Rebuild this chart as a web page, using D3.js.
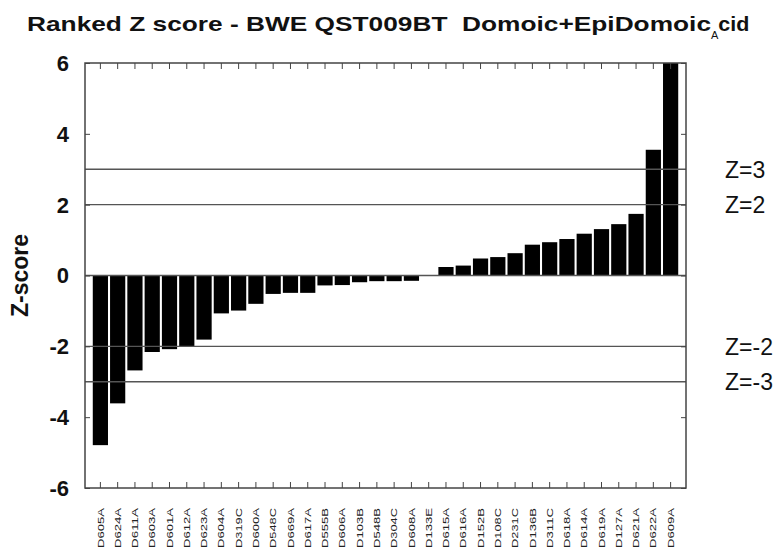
<!DOCTYPE html>
<html>
<head>
<meta charset="utf-8">
<script src="https://cdn.jsdelivr.net/npm/d3@7"></script>
<style>
  body { margin: 0; background: #fff; }
  svg { display: block; }
</style>
</head>
<body>
<svg></svg>
<script>
var labels = ["D605A","D624A","D611A","D603A","D601A","D612A","D623A","D604A","D319C","D600A",
  "D548C","D669A","D617A","D555B","D606A","D103B","D548B","D304C","D608A","D133E",
  "D615A","D616A","D152B","D108C","D231C","D136B","D311C","D618A","D614A","D619A",
  "D127A","D621A","D622A","D609A"];
var zscores = [-4.79,-3.61,-2.68,-2.16,-2.08,-2.01,-1.81,-1.07,-0.99,-0.80,
  -0.52,-0.49,-0.49,-0.28,-0.27,-0.19,-0.16,-0.16,-0.15,0,
  0.24,0.28,0.48,0.52,0.63,0.87,0.94,1.03,1.18,1.31,
  1.45,1.74,3.55,6];
var yTicks = [-6,-4,-2,0,2,4,6];
var zLines = [3,2,-2,-3];
var zLineLabels = ["Z=3","Z=2","Z=-2","Z=-3"];

var margin = {top: 63, right: 97, bottom: 72, left: 85},
    width = 783 - margin.left - margin.right,
    height = 560 - margin.top - margin.bottom;

var x = d3.scaleBand()
  .domain(labels)
  .range([0, width])
  .paddingInner(0.12)
  .paddingOuter(0.45);

var y = d3.scaleLinear()
  .domain([-6, 6])
  .range([height, 0]);

var svg = d3.select("svg")
  .attr("width", 783)
  .attr("height", 560);

// title with subscript A
var title = svg.append("text")
  .attr("x", 27)
  .attr("y", 31)
  .attr("font-family", "Liberation Sans, Arial, sans-serif")
  .attr("font-weight", "bold")
  .attr("font-size", "21px")
  .attr("fill", "#111");
title.append("tspan").text("Ranked Z score - BWE QST009BT\u00a0\u00a0Domoic+EpiDomoic")
  .attr("textLength", 684).attr("lengthAdjust", "spacingAndGlyphs");
title.append("tspan").text("A").attr("font-size", "11px").attr("font-weight", "normal").attr("dy", 8);
title.append("tspan").text("cid").attr("dy", -8)
  .attr("textLength", 31).attr("lengthAdjust", "spacingAndGlyphs");

var g = svg.append("g")
  .attr("transform", "translate(" + margin.left + "," + margin.top + ")");

g.selectAll(".bar")
  .data(zscores)
  .enter().append("rect")
  .attr("class", "bar")
  .attr("x", function(d, i) { return x(labels[i]); })
  .attr("y", function(d) { return y(Math.max(0, d)); })
  .attr("width", x.bandwidth())
  .attr("height", function(d) { return Math.abs(y(d) - y(0)); })
  .attr("fill", "#000");

// reference lines, drawn over bars
g.selectAll(".zline")
  .data(zLines.concat([0]))
  .enter().append("line")
  .attr("x1", 0).attr("x2", width)
  .attr("y1", function(d) { return y(d); })
  .attr("y2", function(d) { return y(d); })
  .attr("stroke", "#555")
  .attr("stroke-width", 1.3);

// frame
g.append("rect")
  .attr("width", width).attr("height", height)
  .attr("fill", "none")
  .attr("stroke", "#444")
  .attr("stroke-width", 1.5);

// inward ticks on all four sides
g.append("g")
  .call(d3.axisLeft(y).tickValues(yTicks).tickSize(-5).tickFormat(""))
  .call(function(a) { a.select(".domain").remove(); a.selectAll("line").attr("stroke", "#444"); });
g.append("g")
  .attr("transform", "translate(" + width + ",0)")
  .call(d3.axisRight(y).tickValues(yTicks).tickSize(-5).tickFormat(""))
  .call(function(a) { a.select(".domain").remove(); a.selectAll("line").attr("stroke", "#444"); });
g.append("g")
  .call(d3.axisTop(x).tickSize(-6).tickFormat(""))
  .call(function(a) { a.select(".domain").remove(); a.selectAll("line").attr("stroke", "#444"); });
var xAxis = g.append("g")
  .attr("transform", "translate(0," + height + ")")
  .call(d3.axisBottom(x).tickSize(-6))
  .call(function(a) { a.select(".domain").remove(); a.selectAll("line").attr("stroke", "#444"); });
xAxis.selectAll("text")
  .attr("transform", "rotate(-90)")
  .attr("text-anchor", "end")
  .attr("x", -20)
  .attr("y", 0)
  .attr("dy", "0.35em")
  .attr("font-family", "Liberation Sans Narrow, Liberation Sans, Arial, sans-serif")
  .attr("font-size", "9px")
  .attr("fill", "#222")
  .attr("textLength", 40)
  .attr("lengthAdjust", "spacingAndGlyphs");

// y tick labels
g.selectAll(".ylab")
  .data(yTicks)
  .enter().append("text")
  .attr("x", -16)
  .attr("y", function(d) { return y(d); })
  .attr("dy", "0.36em")
  .attr("text-anchor", "end")
  .attr("font-family", "Liberation Sans, Arial, sans-serif")
  .attr("font-weight", "bold")
  .attr("font-size", "22px")
  .attr("fill", "#111")
  .text(function(d) { return d; });

// y axis title
svg.append("text")
  .attr("transform", "rotate(-90)")
  .attr("x", -(margin.top + y(0)))
  .attr("y", 28)
  .attr("text-anchor", "middle")
  .attr("font-family", "Liberation Sans, Arial, sans-serif")
  .attr("font-weight", "bold")
  .attr("font-size", "23px")
  .attr("fill", "#111")
  .text("Z-score");

// Z labels on the right
g.selectAll(".zlab")
  .data(zLines)
  .enter().append("text")
  .attr("x", width + 39)
  .attr("y", function(d) { return y(d); })
  .attr("dy", "0.36em")
  .attr("font-family", "Liberation Sans, Arial, sans-serif")
  .attr("font-size", "23px")
  .attr("fill", "#111")
  .text(function(d, i) { return zLineLabels[i]; });
</script>
</body>
</html>
